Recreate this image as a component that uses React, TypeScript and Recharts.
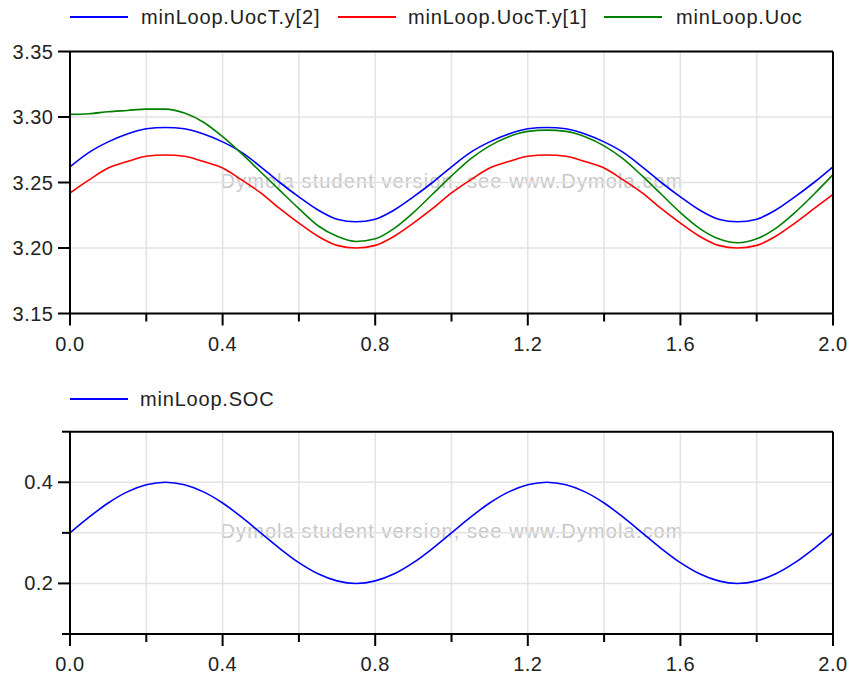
import React from "react";
import { LineChart, Line, XAxis, YAxis, CartesianGrid, ReferenceLine } from "recharts";

const time = [
  0, 0.05, 0.1, 0.15, 0.2, 0.25, 0.3, 0.35, 0.4, 0.45, 0.5, 0.55, 0.6, 0.65, 0.7, 0.75, 0.8, 0.85, 0.9, 0.95,
  1.0, 1.05, 1.1, 1.15, 1.2, 1.25, 1.3, 1.35, 1.4, 1.45, 1.5, 1.55, 1.6, 1.65, 1.7, 1.75, 1.8, 1.85, 1.9, 1.95, 2.0,
];

const uocT2 = [
  3.262, 3.273, 3.281, 3.287, 3.291, 3.292, 3.291, 3.287, 3.281, 3.273, 3.262, 3.25, 3.239, 3.229, 3.222, 3.22,
  3.222, 3.229, 3.239, 3.25, 3.262, 3.273, 3.281, 3.287, 3.291, 3.292, 3.291, 3.287, 3.281, 3.273, 3.262, 3.25,
  3.239, 3.229, 3.222, 3.22, 3.222, 3.229, 3.239, 3.25, 3.262,
];

const uocT1 = [
  3.242, 3.252, 3.261, 3.266, 3.27, 3.271, 3.27, 3.266, 3.261, 3.252, 3.242, 3.23, 3.219, 3.209, 3.202, 3.2,
  3.202, 3.209, 3.219, 3.23, 3.242, 3.252, 3.261, 3.266, 3.27, 3.271, 3.27, 3.266, 3.261, 3.252, 3.242, 3.23,
  3.219, 3.209, 3.202, 3.2, 3.202, 3.209, 3.219, 3.23, 3.241,
];

const uoc = [
  3.302, 3.3025, 3.304, 3.305, 3.306, 3.306, 3.303, 3.296, 3.285, 3.272, 3.258, 3.244, 3.23, 3.217, 3.209, 3.205,
  3.207, 3.215, 3.227, 3.241, 3.255, 3.268, 3.278, 3.285, 3.289, 3.29, 3.289, 3.285, 3.278, 3.268, 3.255, 3.241,
  3.227, 3.215, 3.207, 3.204, 3.207, 3.215, 3.227, 3.241, 3.256,
];

const soc = [
  0.3, 0.331, 0.359, 0.381, 0.395, 0.4, 0.395, 0.381, 0.359, 0.331, 0.3, 0.269, 0.241, 0.219, 0.205, 0.2,
  0.205, 0.219, 0.241, 0.269, 0.3, 0.331, 0.359, 0.381, 0.395, 0.4, 0.395, 0.381, 0.359, 0.331, 0.3, 0.269,
  0.241, 0.219, 0.205, 0.2, 0.205, 0.219, 0.241, 0.269, 0.3,
];

const xTicks = [0, 0.2, 0.4, 0.6, 0.8, 1.0, 1.2, 1.4, 1.6, 1.8, 2.0];
const xLabels = [0, 0.4, 0.8, 1.2, 1.6, 2.0];
const topTicks = [3.15, 3.2, 3.25, 3.3, 3.35];
const bottomTicks = [0.1, 0.2, 0.3, 0.4, 0.5];
const bottomLabels = [0.2, 0.4];

const topData = time.map((t, i) => ({ t, y2: uocT2[i], y1: uocT1[i], uoc: uoc[i] }));
const bottomData = time.map((t, i) => ({ t, soc: soc[i] }));

const font = "'Liberation Sans', Arial, sans-serif";
const textColor = "#222";
const gridColor = "#e3e3e3";

const isIn = (list: number[], v: number) => list.some((l) => Math.abs(l - v) < 1e-6);

const XTick = (props: any) => {
  const { x, y, payload } = props;
  const major = isIn(xLabels, payload.value);
  return (
    <g>
      <line x1={x} x2={x} y1={y} y2={y + (major ? 12 : 8)} stroke="#000" strokeWidth={2} />
      {major && (
        <text x={x} y={y + 37} textAnchor="middle" fontSize={20} fontFamily={font} fill={textColor} letterSpacing={0.5}>
          {payload.value.toFixed(1)}
        </text>
      )}
    </g>
  );
};

const makeYTick = (labels: number[], digits: number) => (props: any) => {
  const { x, y, payload } = props;
  const major = isIn(labels, payload.value);
  return (
    <g>
      <line x1={x} x2={x - (major ? 12 : 8)} y1={y} y2={y} stroke="#000" strokeWidth={2} />
      {major && (
        <text x={x - 16.5} y={y + 7} textAnchor="end" fontSize={20} fontFamily={font} fill={textColor} letterSpacing={0.5}>
          {payload.value.toFixed(digits)}
        </text>
      )}
    </g>
  );
};

const TopYTick = makeYTick(topTicks, 2);
const BottomYTick = makeYTick(bottomLabels, 1);

const legendTop = [
  { name: "minLoop.UocT.y[2]", color: "#0000ff", lineX: 70, textX: 141 },
  { name: "minLoop.UocT.y[1]", color: "#ff0000", lineX: 338, textX: 408 },
  { name: "minLoop.Uoc", color: "#008000", lineX: 604, textX: 676 },
];

function LegendRow({ items, y }: { items: typeof legendTop; y: number }) {
  return (
    <>
      {items.map((it) => (
        <React.Fragment key={it.name}>
          <div style={{ position: "absolute", left: it.lineX, top: y - 1, width: 58, height: 2, background: it.color }} />
          <span
            style={{
              position: "absolute",
              left: it.textX,
              top: y - 12,
              lineHeight: "24px",
              fontSize: 20,
              fontFamily: font,
              color: textColor,
              letterSpacing: 0.8,
              whiteSpace: "nowrap",
            }}
          >
            {it.name}
          </span>
        </React.Fragment>
      ))}
    </>
  );
}

function Watermark({ y }: { y: number }) {
  return (
    <div
      style={{
        position: "absolute",
        left: 452,
        top: y - 12,
        transform: "translateX(-50%)",
        lineHeight: "24px",
        fontSize: 20,
        fontFamily: font,
        color: "#c8c8c8",
        letterSpacing: 1.1,
        whiteSpace: "nowrap",
      }}
    >
      Dymola student version, see www.Dymola.com
    </div>
  );
}

export default function App() {
  return (
    <div style={{ position: "relative", width: 851, height: 675, background: "#fff", overflow: "hidden" }}>
      <style>{"body{margin:0}"}</style>
      <Watermark y={181} />
      <Watermark y={531} />

      <div style={{ position: "absolute", left: 0, top: 0 }}>
        <LineChart width={851} height={370} data={topData} margin={{ top: 51.5, right: 18, bottom: 6.5, left: 0 }}>
          <CartesianGrid stroke={gridColor} strokeWidth={1.5} />
          <XAxis
            dataKey="t"
            type="number"
            domain={[0, 2]}
            ticks={xTicks}
            interval={0}
            height={50}
            tickSize={0}
            tickMargin={0}
            tickLine={false}
            axisLine={{ stroke: "#000", strokeWidth: 2 }}
            tick={<XTick />}
          />
          <YAxis
            type="number"
            domain={[3.15, 3.35]}
            ticks={topTicks}
            interval={0}
            width={70}
            tickSize={0}
            tickMargin={0}
            tickLine={false}
            axisLine={{ stroke: "#000", strokeWidth: 2 }}
            tick={<TopYTick />}
          />
          <Line type="monotone" dataKey="y2" stroke="#0000ff" strokeWidth={1.6} dot={false} isAnimationActive={false} />
          <Line type="monotone" dataKey="y1" stroke="#ff0000" strokeWidth={1.6} dot={false} isAnimationActive={false} />
          <Line type="monotone" dataKey="uoc" stroke="#008000" strokeWidth={1.6} dot={false} isAnimationActive={false} />
          <ReferenceLine y={3.35} stroke="#000" strokeWidth={2} />
          <ReferenceLine x={2} stroke="#000" strokeWidth={2} />
        </LineChart>
      </div>

      <div style={{ position: "absolute", left: 0, top: 370 }}>
        <LineChart width={851} height={305} data={bottomData} margin={{ top: 61.7, right: 18, bottom: 1, left: 0 }}>
          <CartesianGrid stroke={gridColor} strokeWidth={1.5} />
          <XAxis
            dataKey="t"
            type="number"
            domain={[0, 2]}
            ticks={xTicks}
            interval={0}
            height={40}
            tickSize={0}
            tickMargin={0}
            tickLine={false}
            axisLine={{ stroke: "#000", strokeWidth: 2 }}
            tick={<XTick />}
          />
          <YAxis
            type="number"
            domain={[0.1, 0.5]}
            ticks={bottomTicks}
            interval={0}
            width={70}
            tickSize={0}
            tickMargin={0}
            tickLine={false}
            axisLine={{ stroke: "#000", strokeWidth: 2 }}
            tick={<BottomYTick />}
          />
          <Line type="monotone" dataKey="soc" stroke="#0000ff" strokeWidth={1.6} dot={false} isAnimationActive={false} />
          <ReferenceLine y={0.5} stroke="#000" strokeWidth={2} />
          <ReferenceLine x={2} stroke="#000" strokeWidth={2} />
        </LineChart>
      </div>

      <LegendRow items={legendTop} y={17} />
      <LegendRow items={[{ name: "minLoop.SOC", color: "#0000ff", lineX: 70, textX: 140 }]} y={399} />
    </div>
  );
}
